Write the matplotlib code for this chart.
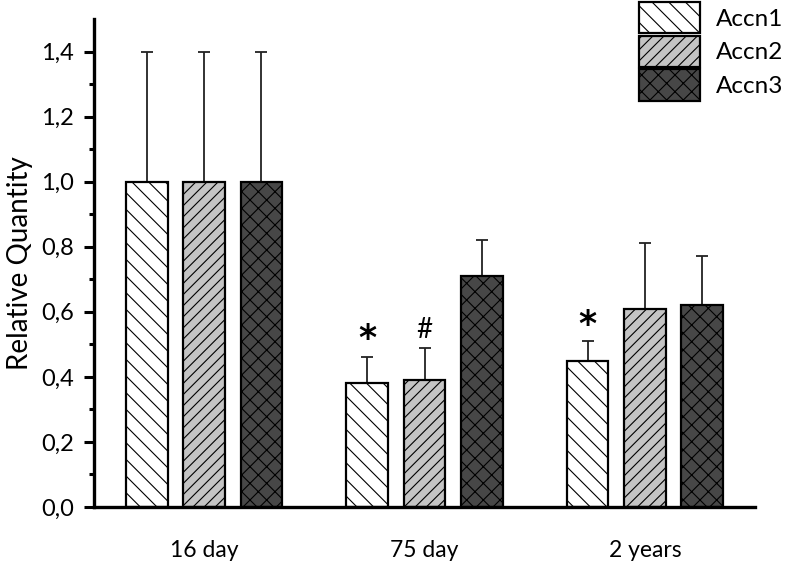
import numpy as np
import matplotlib
matplotlib.use("Agg")
import matplotlib.pyplot as plt

plt.rcParams['font.family'] = ['Lato', 'DejaVu Sans']
plt.rcParams['hatch.linewidth'] = 0.8

groups = ["16 day", "75 day", "2 years"]
series = ["Accn1", "Accn2", "Accn3"]
values = {
    "Accn1": [1.0, 0.38, 0.45],
    "Accn2": [1.0, 0.39, 0.61],
    "Accn3": [1.0, 0.71, 0.62],
}
errors = {
    "Accn1": [0.40, 0.08, 0.06],
    "Accn2": [0.40, 0.10, 0.20],
    "Accn3": [0.40, 0.11, 0.15],
}
# significance marks: (series, group index, label, y)
marks = [("Accn1", 1, "*", 0.515), ("Accn2", 1, "#", 0.545), ("Accn1", 2, "*", 0.56)]

faces = {"Accn1": "white", "Accn2": "#c4c4c4", "Accn3": "#474747"}
hatches = {"Accn1": "\\\\", "Accn2": "///", "Accn3": "xx"}

fig = plt.figure(figsize=(7.85, 5.64), dpi=100)
ax = fig.add_axes([94 / 785, 1 - 507 / 564, 661 / 785, 488 / 564])

x = np.arange(len(groups))
step = 0.26
width = 0.19
for i, s in enumerate(series):
    pos = x + (i - 1) * step
    ax.bar(pos, values[s], width, color=faces[s], edgecolor="black", linewidth=1.6,
           hatch=hatches[s], label=s, zorder=2)
    ax.errorbar(pos, values[s], yerr=[np.zeros(len(groups)), errors[s]], fmt="none",
                ecolor="#222222", elinewidth=1.3, capsize=4, capthick=1.3, zorder=1)

for s, gi, lab, yv in marks:
    i = series.index(s)
    if lab == "*":
        ax.text(x[gi] + (i - 1) * step, yv, lab, ha="center", va="center",
                fontsize=25, fontweight="bold", family="DejaVu Sans")
    else:
        ax.text(x[gi] + (i - 1) * step, yv, lab, ha="center", va="center", fontsize=20)

ax.set_xlim(-0.5, 2.5)
ax.set_ylim(0, 1.5)
ax.set_xticks(x)
ax.set_xticklabels(groups, fontsize=16.5)
ax.tick_params(axis="x", length=0, pad=24)
ax.set_yticks(np.arange(0, 1.41, 0.2))
ax.set_yticklabels([f"{v:.1f}".replace(".", ",") for v in np.arange(0, 1.41, 0.2)], fontsize=17)
ax.set_yticks(np.arange(0.1, 1.5, 0.2), minor=True)
ax.tick_params(axis="y", which="major", direction="out", length=7.5, width=2.2, pad=7)
ax.tick_params(axis="y", which="minor", direction="out", length=3.5, width=2.2)
ax.set_ylabel("Relative Quantity", fontsize=20, labelpad=6)

for side in ["top", "right"]:
    ax.spines[side].set_visible(False)
ax.spines["left"].set_linewidth(2.4)
ax.spines["bottom"].set_linewidth(2.4)

fig.legend(loc="upper left", bbox_to_anchor=(639 / 785, 1 - 2 / 564), frameon=False,
           fontsize=17.5, handlelength=2.5, handleheight=1.6, labelspacing=0.1,
           handletextpad=0.65, borderpad=0, borderaxespad=0)

fig.savefig("out.png", dpi=100)
